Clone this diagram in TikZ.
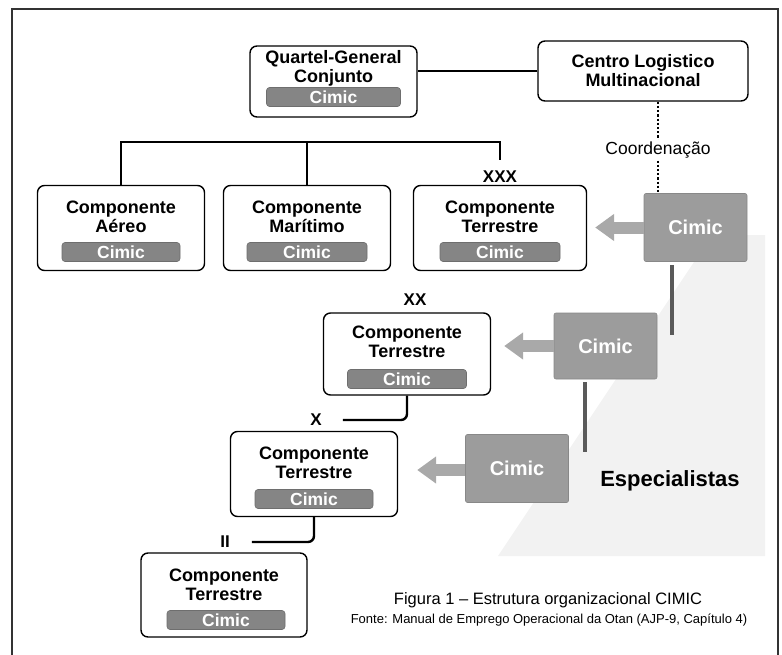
\documentclass[tikz,border=0pt]{standalone}
\usepackage{fontspec}
\setmainfont{Liberation Sans}
\usetikzlibrary{arrows.meta}

\definecolor{barfill}{HTML}{858585}
\definecolor{barline}{HTML}{6E6E6E}
\definecolor{sqfill}{HTML}{9C9C9C}
\definecolor{sqline}{HTML}{888888}
\definecolor{arrowfill}{HTML}{A9A9A9}
\definecolor{feedline}{HTML}{5A5A5A}
\definecolor{bgshade}{HTML}{F2F2F2}

\begin{document}
\begin{tikzpicture}[x=1pt,y=-1pt]

\tikzset{
  unit/.style      = {draw, line width=1.4pt, rounded corners=7pt, fill=white,
                      minimum width=167pt, minimum height=85pt, inner sep=0pt},
  unittext/.style  = {font=\bfseries\fontsize{18}{19}\selectfont, align=center, inner sep=0pt},
  cimicbar/.style  = {fill=barfill, draw=barline, line width=.6pt, rounded corners=3pt,
                      minimum width=118pt, minimum height=19pt, inner sep=0pt,
                      text=white, font=\bfseries\fontsize{17.5}{17.5}\selectfont},
  cimicsq/.style   = {fill=sqfill, draw=sqline, line width=.6pt, rounded corners=2pt,
                      minimum width=103pt, minimum height=68pt, inner sep=0pt,
                      text=white, font=\bfseries\fontsize{20}{20}\selectfont},
  echelon/.style   = {font=\bfseries\fontsize{17}{17}\selectfont, inner sep=2pt},
  link/.style      = {line width=2.4pt},
  feed/.style      = {line width=4pt, draw=feedline},
  fatarrow/.style  = {line width=12pt, draw=arrowfill, -{Triangle[width=26pt,length=19pt]}}
}

\useasboundingbox (0,0) rectangle (782,654);
\fill[fill=bgshade] (712,235) -- (765,235) -- (765,556) -- (498,556) -- cycle;
\draw[line width=2pt, draw=black!80] (12,670) -- (12,9) -- (778,9) -- (778,670);

% top level
\node[unit, minimum height=71pt] (qg) at (333.5,81.5) {};
\node[unittext] (qg-t) at (333.5,68) {Quartel-General\\Conjunto};
\node[cimicbar, minimum width=134pt] (qg-c) at (333.5,97) {Cimic};

\node[unit, minimum width=210pt, minimum height=60pt, font=\bfseries\fontsize{18}{19}\selectfont,
      align=center] (cl) at (643,71) {Centro Logistico\\Multinacional};

% components
\node[unit] (aereo) at (121,228) {};
\node[unittext] (aereo-t) at (121,217) {Componente\\Aéreo};
\node[cimicbar] (aereo-c) at (121,252) {Cimic};

\node[unit] (maritimo) at (307,228) {};
\node[unittext] (maritimo-t) at (307,217) {Componente\\Marítimo};
\node[cimicbar, minimum width=120pt] (maritimo-c) at (307,252) {Cimic};

\node[unit, minimum width=173pt] (xxx) at (500,228) {};
\node[unittext] (xxx-t) at (500,217) {Componente\\Terrestre};
\node[cimicbar, minimum width=120pt] (xxx-c) at (500,252) {Cimic};
\node[echelon] (xxx-l) at (500,177) {XXX};

\node[unit, minimum height=82pt] (xx) at (407,354) {};
\node[unittext] (xx-t) at (407,341.5) {Componente\\Terrestre};
\node[cimicbar, minimum width=119pt] (xx-c) at (407,379) {Cimic};
\node[echelon] (xx-l) at (415,300) {XX};

\node[unit] (x) at (314,474) {};
\node[unittext] (x-t) at (314,463) {Componente\\Terrestre};
\node[cimicbar] (x-c) at (314,499) {Cimic};
\node[echelon] (x-l) at (316,420) {X};

\node[unit, minimum width=166pt, minimum height=84pt] (ii) at (224,595) {};
\node[unittext] (ii-t) at (224,584.5) {Componente\\Terrestre};
\node[cimicbar] (ii-c) at (226,620) {Cimic};
\node[echelon] (ii-l) at (225,542) {II};

% specialists
\node[cimicsq] (sq1) at (695.5,227.5) {Cimic};
\node[cimicsq, minimum height=66pt] (sq2) at (605.5,346) {Cimic};
\node[cimicsq] (sq3) at (517,468.5) {Cimic};
\node[font=\bfseries\fontsize{22}{22}\selectfont] (spec) at (670,481) {Especialistas};

\coordinate (busy) at (306,142);
\coordinate (coord) at (658,0);
\coordinate (f1a) at (672,265);
\coordinate (f1b) at (672,335);
\coordinate (f2a) at (585,382);
\coordinate (f2b) at (585,452);

\draw[link] (cl.west) -- (cl.west -| qg.east);
\draw[link] (aereo.north) -- (aereo.north |- busy) -- (busy -| xxx-l) -- ([yshift=9pt]xxx-l.north);
\draw[link] (maritimo.north) -- (maritimo.north |- busy);
\draw[link, rounded corners=6pt] (xx.south) |- ([xshift=19pt]x-l.east);
\draw[link, rounded corners=6pt] (x.south) |- ([xshift=20pt]ii-l.east);

\draw[line width=2.2pt, dotted] (cl.south -| coord) -- (sq1.north -| coord)
  node[pos=.53, fill=white, inner sep=2pt, font=\fontsize{17.5}{17.5}\selectfont] (coord-l) {Coordenação};

\draw[feed] (f1a) -- (f1b);
\draw[feed] (f2a) -- (f2b);

\draw[fatarrow, shorten >=8pt] (sq1.west) -- (sq1.west -| xxx.east);
\draw[fatarrow, shorten >=13pt] (sq2.west) -- (sq2.west -| xx.east);
\draw[fatarrow, shorten >=19pt] ([yshift=-1.5pt]sq3.west) -- ([yshift=-1.5pt]sq3.west -| x.east);

% caption
\node[font=\fontsize{16.5}{16.5}\selectfont] (cap) at (548,600) {Figura 1 -- Estrutura organizacional CIMIC};
\node[font=\fontsize{13}{13}\selectfont] (src) at (549,620) {Fonte: Manual de Emprego Operacional da Otan (AJP-9, Capítulo 4)};

\end{tikzpicture}
\end{document}
